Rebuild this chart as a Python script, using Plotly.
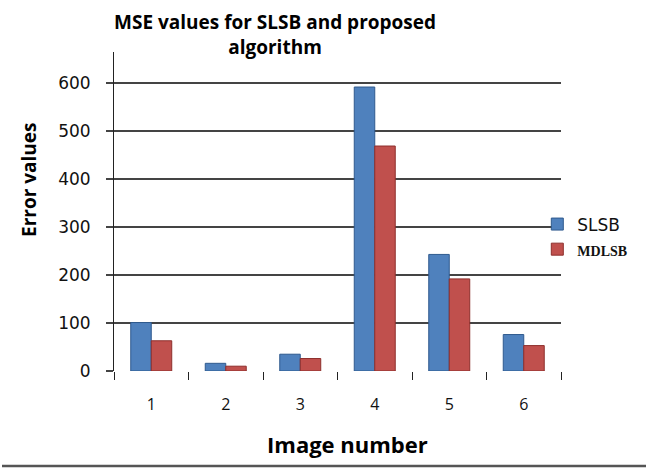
import plotly.graph_objects as go

categories = ["1", "2", "3", "4", "5", "6"]
slsb = [101, 16, 35, 592, 243, 76]
mdlsb = [63, 10, 26, 469, 192, 53]
y_ticks = [0, 100, 200, 300, 400, 500, 600]

fig = go.Figure()
fig.add_trace(go.Bar(x=categories, y=slsb, name="SLSB",
                     marker=dict(color="#4F81BD", line=dict(color="#2F5A8E", width=1))))
fig.add_trace(go.Bar(x=categories, y=mdlsb,
                     name='<span style="font-family:Liberation Serif;font-size:14px;font-weight:bold">MDLSB</span>',
                     marker=dict(color="#C0504D", line=dict(color="#8E2F2C", width=1))))

fig.update_layout(
    width=647, height=474,
    margin=dict(l=114, r=86, t=52, b=103),
    paper_bgcolor="white", plot_bgcolor="white",
    barmode="group", bargap=0.45, bargroupgap=0,
    font=dict(family="Open Sans", size=15, color="#111"),
    showlegend=True,
    legend=dict(x=0.947, y=0.42, xanchor="left", yanchor="middle",
                bgcolor="rgba(0,0,0,0)", tracegroupgap=0, itemwidth=30,
                font=dict(size=17, family="DejaVu Sans")),
    xaxis=dict(showline=False, showgrid=False, ticks="outside", ticklen=8,
               tickcolor="#222", tickwidth=1, tickson="boundaries",
               tickfont=dict(size=16, family="Open Sans"), ticklabelstandoff=22,
               zeroline=False),
    yaxis=dict(range=[0, 665], tickvals=y_ticks, showline=True, linecolor="#222",
               linewidth=1, showgrid=True, gridcolor="#444", gridwidth=1.5,
               ticks="outside", ticklen=7, tickcolor="#444", tickwidth=1.5,
               tickfont=dict(size=17, family="DejaVu Sans"), ticklabelstandoff=12,
               zeroline=False),
    annotations=[
        dict(text="<b>MSE values for SLSB and proposed<br>algorithm</b>",
             xref="paper", yref="paper", x=0.36, y=1.14, xanchor="center", yanchor="top",
             showarrow=False, font=dict(size=19, family="Open Sans", color="#000")),
        dict(text="<b>Error values</b>", xref="paper", yref="paper", x=-0.19, y=0.599,
             textangle=-90, showarrow=False, xanchor="center", yanchor="middle",
             font=dict(size=19, family="Open Sans", color="#000")),
        dict(text="<b>Image number</b>", xref="paper", yref="paper", x=0.523, y=-0.229,
             showarrow=False, xanchor="center", yanchor="middle",
             font=dict(size=22, family="Open Sans", color="#000")),
    ],
    shapes=[dict(type="line", xref="paper", yref="paper",
                 x0=(2 - 114) / 447, x1=(646 - 114) / 447,
                 y0=(371 - 466) / 319, y1=(371 - 466) / 319,
                 line=dict(color="#555", width=2.5))],
)

fig.write_html("out.html")
